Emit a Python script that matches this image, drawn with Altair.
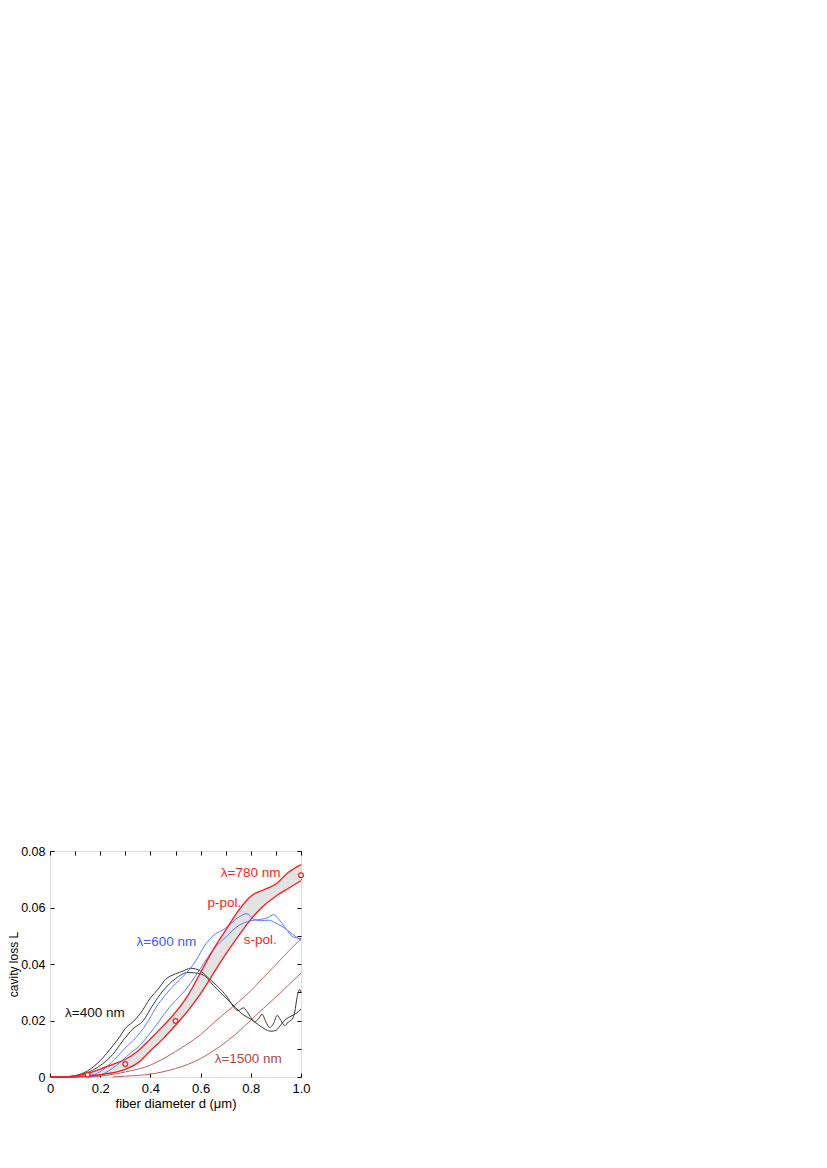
import altair as alt
import pandas as pd

# ---------------- data ----------------
X_TICKS = [0.0, 0.1, 0.2, 0.3, 0.4, 0.5, 0.6, 0.7, 0.8, 0.9, 1.0]
Y_TICKS = [0.0, 0.01, 0.02, 0.03, 0.04, 0.05, 0.06, 0.07, 0.08]

# lambda = 780 nm (band between p-pol. and s-pol.)
D_RED = [0.00, 0.05, 0.10, 0.15, 0.20, 0.25, 0.30, 0.35, 0.40, 0.45, 0.50,
         0.55, 0.60, 0.65, 0.70, 0.75, 0.80, 0.85, 0.90, 0.95, 1.00]
RED_P = [0.0, 0.0, 0.0004, 0.0013, 0.0028, 0.0045, 0.0062, 0.0092, 0.0135, 0.0180, 0.0229,
         0.0290, 0.0370, 0.0450, 0.0520, 0.0588, 0.0640, 0.0662, 0.0683, 0.0725, 0.0752]
RED_S = [0.0, 0.0, 0.0, 0.0003, 0.0008, 0.0015, 0.0027, 0.0050, 0.0093, 0.0135, 0.0183,
         0.0235, 0.0295, 0.0365, 0.0435, 0.0498, 0.0558, 0.0605, 0.0640, 0.0668, 0.0695]

# red circles (780 nm)
CIRC_D = [0.15, 0.30, 0.50, 1.00]
CIRC_L = [0.0008, 0.0046, 0.0198, 0.0714]

# lambda = 400 nm
D_BK1 = [0.00, 0.05, 0.10, 0.15, 0.20, 0.25, 0.28, 0.30, 0.33, 0.36, 0.40, 0.43, 0.46, 0.50,
         0.53, 0.56, 0.60, 0.62, 0.65, 0.68, 0.71, 0.73, 0.75, 0.77, 0.785, 0.80, 0.815, 0.83,
         0.845, 0.86, 0.875, 0.89, 0.905, 0.92, 0.935, 0.95, 0.965, 0.975, 0.985, 0.995, 1.00]
BK1 = [0.0, 0.0, 0.0005, 0.0022, 0.0058, 0.0110, 0.0145, 0.0172, 0.0195, 0.0225, 0.0280, 0.0310,
       0.0345, 0.0365, 0.0375, 0.0385, 0.0375, 0.0360, 0.0335, 0.0310, 0.0278, 0.0250, 0.0235,
       0.0245, 0.0232, 0.0210, 0.0195, 0.0205, 0.0222, 0.0195, 0.0175, 0.0188, 0.0218, 0.0200,
       0.0182, 0.0195, 0.0205, 0.0230, 0.0285, 0.0310, 0.0300]
D_BK2 = [0.00, 0.08, 0.12, 0.17, 0.21, 0.25, 0.29, 0.33, 0.37, 0.41, 0.45, 0.50, 0.55, 0.60,
         0.62, 0.65, 0.68, 0.71, 0.74, 0.77, 0.80, 0.83, 0.86, 0.88, 0.90, 0.92, 0.94, 0.96,
         0.98, 1.00]
BK2 = [0.0, 0.0, 0.0008, 0.0024, 0.0047, 0.0080, 0.0128, 0.0170, 0.0198, 0.0255, 0.0305, 0.0348,
       0.0370, 0.0365, 0.0355, 0.0325, 0.0298, 0.0272, 0.0245, 0.0220, 0.0205, 0.0185, 0.0168,
       0.0162, 0.0165, 0.0185, 0.0205, 0.0215, 0.0225, 0.0240]

# lambda = 600 nm
D_BL1 = [0.10, 0.15, 0.185, 0.225, 0.265, 0.30, 0.344, 0.384, 0.423, 0.463, 0.50, 0.54, 0.58,
         0.62, 0.65, 0.70, 0.75, 0.785, 0.81, 0.84, 0.87, 0.90, 0.93, 0.96, 1.00]
BL1 = [0.0, 0.0005, 0.0012, 0.0035, 0.0070, 0.0103, 0.0141, 0.0188, 0.0247, 0.0294, 0.0330,
       0.0365, 0.0410, 0.0470, 0.0500, 0.0527, 0.0565, 0.0578, 0.0560, 0.0553, 0.0555, 0.0545,
       0.0530, 0.0510, 0.0483]
D_BL2 = [0.15, 0.20, 0.265, 0.317, 0.357, 0.397, 0.437, 0.476, 0.50, 0.55, 0.60, 0.65, 0.70,
         0.75, 0.80, 0.84, 0.87, 0.89, 0.91, 0.94, 0.97, 1.00]
BL2 = [0.0, 0.0007, 0.0041, 0.0082, 0.0111, 0.0153, 0.0200, 0.0247, 0.0270, 0.0320, 0.0385,
       0.0450, 0.0495, 0.0535, 0.0553, 0.0558, 0.0565, 0.0575, 0.0560, 0.0525, 0.0495, 0.0490]

# lambda = 1500 nm
D_BR1 = [0.15, 0.20, 0.30, 0.40, 0.45, 0.50, 0.55, 0.60, 0.65, 0.70, 0.75, 0.80, 0.85, 0.90,
         0.95, 1.00]
BR1 = [0.0, 0.0003, 0.0018, 0.0042, 0.0064, 0.0090, 0.0118, 0.0150, 0.0190, 0.0228, 0.0265,
       0.0305, 0.0352, 0.0398, 0.0445, 0.0490]
D_BR2 = [0.25, 0.30, 0.40, 0.50, 0.55, 0.60, 0.65, 0.70, 0.75, 0.80, 0.85, 0.90, 0.95, 1.00]
BR2 = [0.0, 0.0003, 0.0010, 0.0030, 0.0045, 0.0065, 0.0092, 0.0123, 0.0160, 0.0201, 0.0243,
       0.0283, 0.0325, 0.0368]

# annotations
LBL_LEFT_TEXT = ["λ=400 nm", "λ=600 nm", "s-pol.", "λ=1500 nm"]
LBL_LEFT_D = [0.06, 0.345, 0.772, 0.656]
LBL_LEFT_L = [0.0225, 0.0477, 0.0484, 0.0064]
LBL_LEFT_COLOR = ["#111111", "#3a5cff", "#ff1a1a", "#b04848"]
LBL_RIGHT_TEXT = ["λ=780 nm", "p-pol."]
LBL_RIGHT_D = [0.918, 0.762]
LBL_RIGHT_L = [0.0723, 0.0615]
LBL_RIGHT_COLOR = ["#ff1a1a", "#ff1a1a"]

# ---------------- tables ----------------
def series(ds, ls, name, color):
    return pd.DataFrame({"d": ds, "L": ls, "series": name, "color": color})

band = pd.DataFrame({"d": D_RED, "L": RED_P, "L2": RED_S})
thin = pd.concat([
    series(D_BR1, BR1, "br1", "#c06060"),
    series(D_BR2, BR2, "br2", "#c06060"),
    series(D_BK1, BK1, "bk1", "#3a3a3a"),
    series(D_BK2, BK2, "bk2", "#3a3a3a"),
    series(D_BL1, BL1, "bl1", "#5a7cff"),
    series(D_BL2, BL2, "bl2", "#5a7cff"),
], ignore_index=True)
red = pd.concat([
    series(D_RED, RED_P, "p", "#ff1a1a"),
    series(D_RED, RED_S, "s", "#ff1a1a"),
], ignore_index=True)
circ = pd.DataFrame({"d": CIRC_D, "L": CIRC_L})
lbl_left = pd.DataFrame({"d": LBL_LEFT_D, "L": LBL_LEFT_L, "t": LBL_LEFT_TEXT, "color": LBL_LEFT_COLOR})
lbl_right = pd.DataFrame({"d": LBL_RIGHT_D, "L": LBL_RIGHT_L, "t": LBL_RIGHT_TEXT, "color": LBL_RIGHT_COLOR})

FONT = "Liberation Sans"
xscale = alt.Scale(domain=[0, 1], nice=False, zero=False)
yscale = alt.Scale(domain=[0, 0.08], nice=False, zero=False)

x_axis = alt.Axis(
    values=X_TICKS, orient="bottom", offset=-4, tickSize=4, domain=False, grid=False,
    tickColor="black", labelColor="black", labelFont=FONT, labelFontSize=13,
    labelPadding=5, labelFlush=False, labelOverlap=False,
    labelExpr="datum.value == 0 ? '0' : (round(datum.value*10) % 2 == 0 ? format(datum.value, '.1f') : '')",
    title="fiber diameter d (μm)", titleFont=FONT, titleFontSize=13, titleFontWeight="normal",
    titleColor="black", titlePadding=2,
)
y_axis = alt.Axis(
    values=Y_TICKS, orient="left", offset=-4, tickSize=4, domain=False, grid=False,
    tickColor="black", labelColor="black", labelFont=FONT, labelFontSize=12.5,
    labelPadding=5, labelOverlap=False, labelFlush=False,
    labelExpr="datum.value == 0 ? '0' : (round(datum.value*100) % 2 == 0 ? format(datum.value, '.2f') : '')",
    title="cavity loss L", titleFont=FONT, titleFontSize=12, titleFontWeight="normal",
    titleColor="black", titlePadding=0.5,
)

area = alt.Chart(band).mark_area(color="#e3e3e3", interpolate="monotone").encode(
    x=alt.X("d:Q", scale=xscale, axis=x_axis),
    y=alt.Y("L:Q", scale=yscale, axis=y_axis),
    y2="L2:Q",
)
thin_lines = alt.Chart(thin).mark_line(strokeWidth=1, interpolate="monotone").encode(
    x="d:Q", y="L:Q", detail="series:N", color=alt.Color("color:N", scale=None),
)
red_lines = alt.Chart(red).mark_line(strokeWidth=1.35, interpolate="monotone").encode(
    x="d:Q", y="L:Q", detail="series:N", color=alt.Color("color:N", scale=None),
)
circles = alt.Chart(circ).mark_point(shape="circle", size=22, filled=False, stroke="#ff1a1a",
                                     strokeWidth=1.3, fill="white", fillOpacity=1, opacity=1).encode(
    x="d:Q", y="L:Q",
)
text_left = alt.Chart(lbl_left).mark_text(align="left", baseline="middle", font=FONT, fontSize=13.5).encode(
    x="d:Q", y="L:Q", text="t:N", color=alt.Color("color:N", scale=None),
)
text_right = alt.Chart(lbl_right).mark_text(align="right", baseline="middle", font=FONT, fontSize=13.5).encode(
    x="d:Q", y="L:Q", text="t:N", color=alt.Color("color:N", scale=None),
)

main = alt.layer(area, thin_lines, red_lines, circles, text_left, text_right)

mirror = alt.Chart(circ).mark_point(opacity=0).encode(
    x=alt.X("d:Q", scale=xscale, axis=alt.Axis(
        values=X_TICKS, orient="top", offset=-4, tickSize=4, domain=False, grid=False,
        labels=False, title="", tickColor="black")),
    y=alt.Y("L:Q", scale=yscale, axis=alt.Axis(
        values=Y_TICKS, orient="right", offset=-4, tickSize=4, domain=False, grid=False,
        labels=False, title="", tickColor="black")),
)

chart = alt.layer(main, mirror).resolve_axis(x="independent", y="independent").properties(
    width=251, height=226,
    autosize=alt.AutoSizeParams(type="none"),
    padding={"left": 42, "top": 843, "right": 40, "bottom": 60},
).configure_view(stroke="black", strokeWidth=1).configure(background="white")

chart.save("out.html", embed_options={"renderer": "svg", "actions": False})
